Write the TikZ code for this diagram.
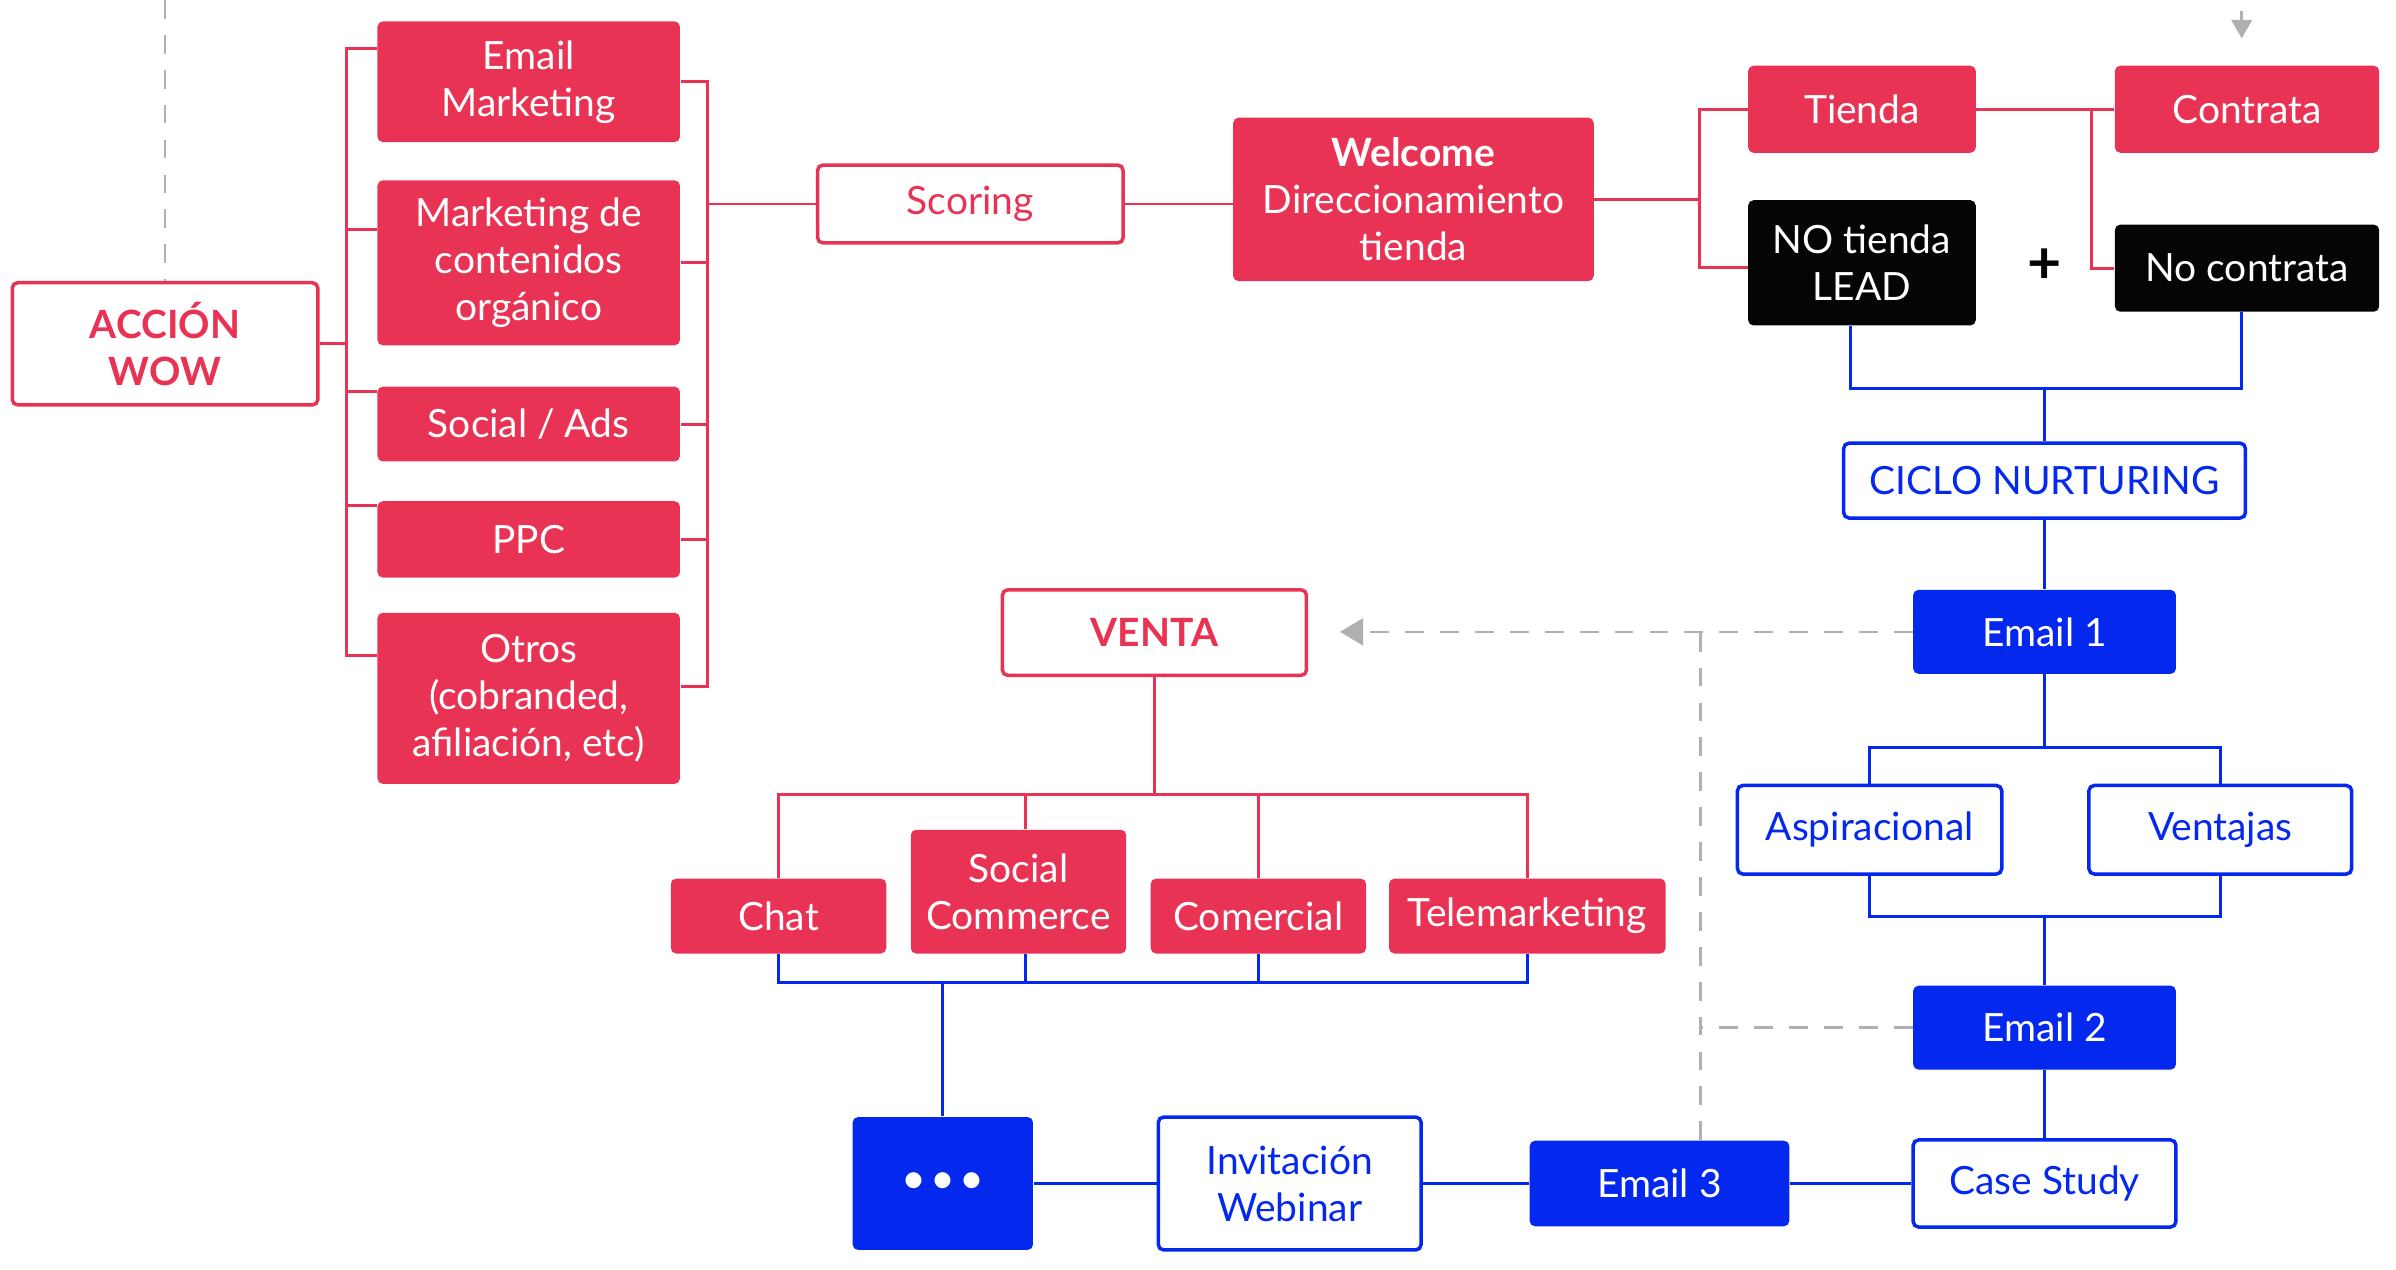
\documentclass[tikz,border=0pt]{standalone}
\usepackage{fontspec}
\setmainfont{Lato}
\usetikzlibrary{arrows.meta}
\definecolor{pk}{RGB}{233,51,84}
\definecolor{bl}{RGB}{4,40,238}
\definecolor{dg}{RGB}{176,176,176}
\definecolor{bk}{RGB}{5,5,5}
\begin{document}
\begin{tikzpicture}[x=0.02cm, y=-0.02cm,
  box/.style={rounded corners=2pt, inner sep=0pt, align=center, font=\fontsize{14.5}{17.5}\selectfont},
  pkfill/.style={box, fill=pk, text=white},
  pkline/.style={box, draw=pk, line width=1.3pt, fill=white, text=pk},
  blfill/.style={box, fill=bl, text=white},
  blline/.style={box, draw=bl, line width=1.3pt, fill=white, text=bl},
  bkfill/.style={box, fill=bk, text=white},
  pkc/.style={draw=pk, line width=1.1pt},
  blc/.style={draw=bl, line width=1.1pt},
  dsh/.style={draw=dg, line width=1pt, dash pattern=on 7pt off 6pt}]
\fill[white] (0,0) rectangle (1568,831);
\useasboundingbox (0,0) rectangle (1568,831);

% ---- nodes ----
\node[pkline, font=\fontsize{14.5}{17.5}\selectfont\bfseries, minimum width=4cm, minimum height=1.6cm] (acc) at (108,225) {ACCIÓN\\WOW};
\node[pkfill, minimum width=3.96cm, minimum height=1.58cm] (emk) at (346,53.5) {Email\\Marketing};
\node[pkfill, minimum width=3.96cm, minimum height=2.16cm] (mkc) at (346,172) {Marketing de\\contenidos\\orgánico};
\node[pkfill, minimum width=3.96cm, minimum height=0.98cm] (soc) at (346,277.5) {Social / Ads};
\node[pkfill, minimum width=3.96cm, minimum height=1cm] (ppc) at (346,353) {PPC};
\node[pkfill, minimum width=3.96cm, minimum height=2.24cm] (otr) at (346,457) {Otros\\(cobranded,\\afiliación, etc)};
\node[pkline, minimum width=4cm, minimum height=1.02cm] (sco) at (635,133.5) {Scoring};
\node[pkfill, minimum width=4.72cm, minimum height=2.14cm] (wel) at (925,130.5) {\textbf{Welcome}\\Direccionamiento\\tienda};
\node[pkfill, minimum width=2.98cm, minimum height=1.14cm] (tie) at (1218.5,71.5) {Tienda};
\node[bkfill, minimum width=2.98cm, minimum height=1.64cm] (not) at (1218.5,172) {NO tienda\\LEAD};
\node[pkfill, minimum width=3.46cm, minimum height=1.14cm] (con) at (1470.5,71.5) {Contrata};
\node[bkfill, minimum width=3.46cm, minimum height=1.14cm] (noc) at (1470.5,175.5) {No contrata};
\node[font=\fontsize{22}{24}\selectfont\bfseries, text=bk] (plus) at (1338,174) {+};
\node[blline, minimum width=5.26cm, minimum height=0.98cm] (cic) at (1338,314.5) {CICLO NURTURING};
\node[blfill, minimum width=3.44cm, minimum height=1.1cm] (em1) at (1338,413.5) {Email 1};
\node[blline, minimum width=3.46cm, minimum height=1.16cm] (asp) at (1223.5,543) {Aspiracional};
\node[blline, minimum width=3.44cm, minimum height=1.16cm] (vtj) at (1453,543) {Ventajas};
\node[blfill, minimum width=3.44cm, minimum height=1.1cm] (em2) at (1338,672.5) {Email 2};
\node[blline, minimum width=3.44cm, minimum height=1.14cm] (cas) at (1338,774.5) {Case Study};
\node[blfill, minimum width=3.4cm, minimum height=1.12cm] (em3) at (1086,774.5) {Email 3};
\node[blline, minimum width=3.44cm, minimum height=1.74cm] (web) at (844,774.5) {Invitación\\Webinar};
\node[blfill, minimum width=2.36cm, minimum height=1.74cm, font=\fontsize{16}{16}\selectfont] (dot) at (617,774.5) {•\hspace{1.5pt}•\hspace{1.5pt}•};
\node[pkline, font=\fontsize{14.5}{17.5}\selectfont\bfseries, minimum width=3.98cm, minimum height=1.12cm] (vta) at (755.5,414) {VENTA};
\node[pkfill, minimum width=2.82cm, minimum height=0.98cm] (cha) at (509.5,599.5) {Chat};
\node[pkfill, minimum width=2.82cm, minimum height=1.62cm] (scm) at (666.5,583.5) {Social\\Commerce};
\node[pkfill, minimum width=2.82cm, minimum height=0.98cm] (com) at (823.5,599.5) {Comercial};
\node[pkfill, minimum width=3.62cm, minimum height=0.98cm] (tel) at (999.5,599.5) {Telemarketing};

% ---- left bracket ----
\coordinate (lbT) at (227,32);
\coordinate (lbB) at (227,429);
\coordinate (lb2) at (227,150);
\coordinate (lb3) at (227,256);
\coordinate (lb4) at (227,331);
\draw[pkc] (acc.east) -- (acc.east -| lbT);
\draw[pkc] (lbT -| emk.west) -- (lbT) -- (lbB) -- (lbB -| otr.west);
\draw[pkc] (lb2) -- (lb2 -| mkc.west);
\draw[pkc] (lb3) -- (lb3 -| soc.west);
\draw[pkc] (lb4) -- (lb4 -| ppc.west);

% ---- right bracket ----
\coordinate (rbT) at (463,53.5);
\coordinate (rbB) at (463,449);
\draw[pkc] (emk.east) -- (rbT) -- (rbB) -- (rbB -| otr.east);
\draw[pkc] (mkc.east) -- (mkc.east -| rbT);
\draw[pkc] (soc.east) -- (soc.east -| rbT);
\draw[pkc] (ppc.east) -- (ppc.east -| rbT);
\draw[pkc] (sco.west -| rbT) -- (sco.west);
\draw[pkc] (sco.east) -- (sco.east -| wel.west);

% ---- welcome split ----
\coordinate (wb) at (1112,130.5);
\coordinate (wbT) at (1112,71.5);
\coordinate (wbB) at (1112,175);
\draw[pkc] (wel.east) -- (wb);
\draw[pkc] (tie.west) -- (wbT) -- (wbB) -- (wbB -| not.west);
\draw[pkc] (tie.east) -- (con.west);
\coordinate (cb) at (1369,71.5);
\draw[pkc] (cb) |- (noc.west);

% ---- nurturing ----
\coordinate (n1) at (1211,254);
\coordinate (n2) at (1467,254);
\coordinate (n3) at (1338,254);
\draw[blc] (n1 |- not.south) -- (n1) -- (n2) -- (n2 |- noc.south);
\draw[blc] (n3) -- (cic.north);
\draw[blc] (cic.south) -- (em1.north);
\coordinate (a1) at (1224,489);
\draw[blc] (em1.south) -- (em1.south |- a1);
\draw[blc] (asp.north) |- (vtj.north |- a1) -- (vtj.north);
\coordinate (b1) at (1224,600);
\draw[blc] (asp.south) |- (vtj.south |- b1) -- (vtj.south);
\draw[blc] (em2.north |- b1) -- (em2.north);
\draw[blc] (em2.south) -- (cas.north);
\draw[blc] (cas.west) -- (em3.east);
\draw[blc] (em3.west) -- (web.east);
\draw[blc] (web.west) -- (dot.east);

% ---- venta tree ----
\coordinate (v1) at (510,520);
\coordinate (sc1) at (671,520);
\draw[pkc] (vta.south) -- (vta.south |- v1);
\draw[pkc] (cha.north) |- (tel.north |- v1) -- (tel.north);
\draw[pkc] (sc1) -- (sc1 |- scm.north);
\draw[pkc] (com.north) -- (com.north |- v1);
\coordinate (w1) at (510,643);
\coordinate (sc2) at (671,643);
\coordinate (d1) at (617,643);
\draw[blc] (cha.south) |- (tel.south |- w1) -- (tel.south);
\draw[blc] (sc2) -- (sc2 |- scm.south);
\draw[blc] (com.south) -- (com.south |- w1);
\draw[blc] (d1) -- (dot.north);

% ---- gray dashed ----
\coordinate (gt) at (108,0);
\draw[dsh] (gt) -- (acc.north);
\coordinate (ga) at (877,413.5);
\coordinate (gas) at (893,413.5);
\draw[dsh] (em1.west) -- (gas);
\fill[dg] (ga) -- ++(15,-9) -- ++(0,18) -- cycle;
\coordinate (gv) at (1113,413.5);
\draw[dsh] (gv |- em3.north) -- (gv);
\draw[dsh] (em2.west) -- (em2.west -| gv);
\coordinate (gt2) at (1467,7);
\coordinate (gt3) at (1467,25);
\draw[draw=dg, line width=1pt] (gt2) -- ++(0,8);
\fill[dg] (gt3) -- ++(-7,-12) -- ++(14,0) -- cycle;
\end{tikzpicture}
\end{document}
